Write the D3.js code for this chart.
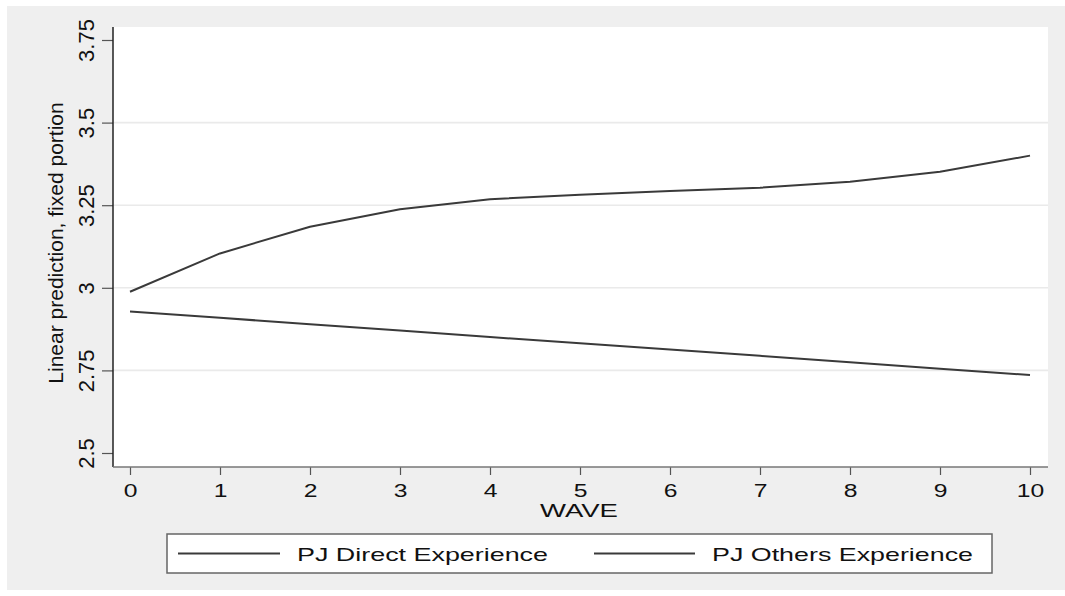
<!DOCTYPE html>
<html>
<head>
<meta charset="utf-8">
<script src="https://cdn.jsdelivr.net/npm/d3@7/dist/d3.min.js"></script>
<style>
  html, body { margin: 0; padding: 0; background: #ffffff; }
  svg { display: block; }
  text { font-family: Arial, "Liberation Sans", Helvetica, sans-serif; fill: #111111; }
</style>
</head>
<body>
<svg id="chart" width="1065" height="596"></svg>
<script>
// Survey waves on the x axis
const waves = [0, 1, 2, 3, 4, 5, 6, 7, 8, 9, 10];
// Linear prediction (fixed portion) for each series
const othersExperience = [2.988, 3.104, 3.185, 3.238, 3.268, 3.282, 3.293, 3.303, 3.321, 3.351, 3.400];
const directExperience = [2.928, 2.909, 2.890, 2.871, 2.851, 2.832, 2.813, 2.794, 2.775, 2.755, 2.736];
const seriesNames = ["PJ Direct Experience", "PJ Others Experience"];
// Axis ticks
const yTicks = [2.5, 2.75, 3, 3.25, 3.5, 3.75];
const xTicks = [0, 1, 2, 3, 4, 5, 6, 7, 8, 9, 10];
const yTitle = "Linear prediction, fixed portion";
const xTitle = "WAVE";

const svg = d3.select("#chart");

// Plot region
const plot = { left: 113, right: 1048, top: 27, bottom: 467 };

const x = d3.scaleLinear().domain([0, 10]).range([130, 1030]);
const y = d3.scaleLinear().domain([2.5, 3.75]).range([453, 40]);

// Outer graph background
svg.append("rect")
  .attr("x", 7).attr("y", 6)
  .attr("width", 1058).attr("height", 584)
  .attr("fill", "#efefef");

// Plot background
svg.append("rect")
  .attr("x", plot.left).attr("y", plot.top)
  .attr("width", plot.right - plot.left).attr("height", plot.bottom - plot.top)
  .attr("fill", "#ffffff");

// Horizontal grid lines (interior ticks only)
svg.append("g")
  .selectAll("line")
  .data(yTicks.slice(1, -1))
  .join("line")
  .attr("x1", plot.left).attr("x2", plot.right)
  .attr("y1", d => y(d)).attr("y2", d => y(d))
  .attr("stroke", "#eaeaea")
  .attr("stroke-width", 1.6);

// Y axis
const yAxis = svg.append("g")
  .attr("transform", `translate(${plot.left},0)`)
  .call(d3.axisLeft(y).tickValues(yTicks).tickSize(11).tickFormat(d => String(d)));
yAxis.select(".domain").remove();
yAxis.selectAll(".tick line").attr("stroke", "#555555").attr("stroke-width", 1.2);
yAxis.selectAll(".tick text")
  .attr("x", null).attr("dy", null)
  .attr("text-anchor", "middle")
  .attr("transform", "translate(-19,0) rotate(-90)")
  .attr("font-size", "22px")
  .style("font-family", "Arial, 'Liberation Sans', sans-serif")
  .attr("fill", "#111111");
svg.append("line")
  .attr("x1", plot.left).attr("x2", plot.left)
  .attr("y1", plot.top).attr("y2", plot.bottom)
  .attr("stroke", "#222222").attr("stroke-width", 1.5);

// X axis
const xAxis = svg.append("g")
  .attr("transform", `translate(0,${plot.bottom})`)
  .call(d3.axisBottom(x).tickValues(xTicks).tickSize(8).tickFormat(d => String(d)));
xAxis.select(".domain").remove();
xAxis.selectAll(".tick line").attr("stroke", "#555555").attr("stroke-width", 1.2);
xAxis.selectAll(".tick text")
  .attr("y", null).attr("dy", null)
  .attr("text-anchor", "middle")
  .attr("transform", "translate(0,30) scale(1.3,1)")
  .attr("font-size", "19px")
  .style("font-family", "Arial, 'Liberation Sans', sans-serif")
  .attr("fill", "#111111");
svg.append("line")
  .attr("x1", plot.left).attr("x2", plot.right)
  .attr("y1", plot.bottom).attr("y2", plot.bottom)
  .attr("stroke", "#777777").attr("stroke-width", 1.5);

// Axis titles
svg.append("text")
  .attr("transform", `translate(63,243) rotate(-90)`)
  .attr("text-anchor", "middle")
  .attr("font-size", "21px")
  .text(yTitle);

svg.append("text")
  .attr("x", 540).attr("y", 517)
  .attr("font-size", "18px")
  .attr("textLength", 78)
  .attr("lengthAdjust", "spacingAndGlyphs")
  .text(xTitle);

// Series lines
const line = d3.line()
  .x((d, i) => x(waves[i]))
  .y(d => y(d));

svg.append("g")
  .selectAll("path")
  .data([directExperience, othersExperience])
  .join("path")
  .attr("d", d => line(d))
  .attr("fill", "none")
  .attr("stroke", "#3a3a3a")
  .attr("stroke-width", 2)
  .attr("stroke-linejoin", "round");

// Legend
const legend = svg.append("g");
legend.append("rect")
  .attr("x", 167).attr("y", 534)
  .attr("width", 825).attr("height", 39)
  .attr("fill", "#ffffff")
  .attr("stroke", "#666666")
  .attr("stroke-width", 1.5);

const legendItems = [
  { name: seriesNames[0], lx1: 178, lx2: 280, tx: 297, tw: 251 },
  { name: seriesNames[1], lx1: 594, lx2: 695, tx: 712, tw: 261 }
];
legendItems.forEach(it => {
  legend.append("line")
    .attr("x1", it.lx1).attr("x2", it.lx2)
    .attr("y1", 553.5).attr("y2", 553.5)
    .attr("stroke", "#3a3a3a").attr("stroke-width", 2);
  legend.append("text")
    .attr("x", it.tx).attr("y", 561)
    .attr("font-size", "19px")
    .attr("textLength", it.tw)
    .attr("lengthAdjust", "spacingAndGlyphs")
    .text(it.name);
});
</script>
</body>
</html>
